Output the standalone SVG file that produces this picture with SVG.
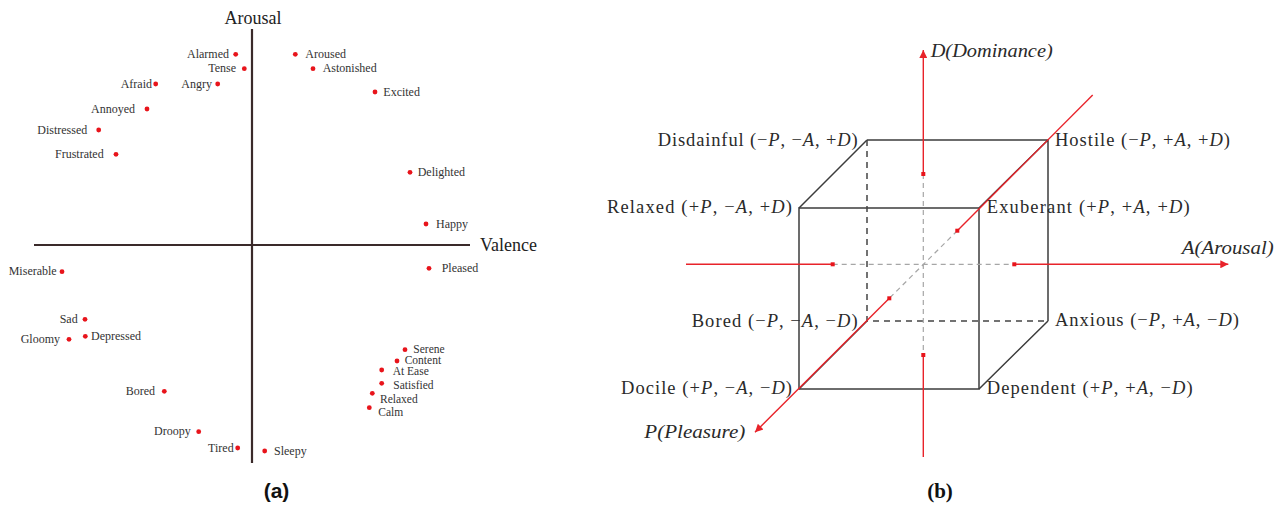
<svg xmlns="http://www.w3.org/2000/svg" width="1283" height="507" viewBox="0 0 1283 507">
<style>
.lbl{font-family:"Liberation Serif","Times New Roman",serif;font-size:12px;fill:#333}
.sm{font-size:11.5px}
.ax{font-family:"Liberation Serif","Times New Roman",serif;font-size:18px;fill:#222}
.pad{fill:#e8141b}
.axis{stroke:#3a2a2a;stroke-width:2.2;fill:none}
.cube{stroke:#3c3c3c;stroke-width:1.5;fill:none}
.hid{stroke:#444;stroke-width:1.5;stroke-dasharray:6 5;fill:none}
.red{stroke:#e8232a;stroke-width:1.4;fill:none}
.gd{stroke:#a6a6a6;stroke-width:1.2;stroke-dasharray:5 4;fill:none}
.sq{fill:#e8141b}
.pl{font-family:"Liberation Serif","Times New Roman",serif;font-size:18.5px;fill:#2a2a2a}
.it{font-style:italic}
.cap{font-size:21px;font-weight:bold;fill:#111}
</style>
<defs>
<marker id="ar" viewBox="0 0 10 10" refX="10" refY="5" markerWidth="10" markerHeight="8" markerUnits="userSpaceOnUse" orient="auto">
<path d="M0,0 L10,5 L0,10 z" fill="#e8232a"/>
</marker>
</defs>

<!-- Panel (a) -->
<g id="axes-a">
<line class="axis" x1="252" y1="29" x2="252" y2="463"/>
<line class="axis" x1="34" y1="245" x2="470" y2="245"/>
<text class="ax" x="253" y="24" text-anchor="middle">Arousal</text>
<text class="ax" x="480" y="251">Valence</text>
</g>

<g id="pt-alarmed"><circle class="pad" cx="235.7" cy="54.3" r="2.4"/><text class="lbl" x="229" y="57.8" text-anchor="end">Alarmed</text></g>
<g id="pt-tense"><circle class="pad" cx="244.3" cy="68.7" r="2.4"/><text class="lbl" x="236" y="72.2" text-anchor="end">Tense</text></g>
<g id="pt-angry"><circle class="pad" cx="217.7" cy="84" r="2.4"/><text class="lbl" x="212" y="87.5" text-anchor="end">Angry</text></g>
<g id="pt-afraid"><circle class="pad" cx="155.7" cy="84" r="2.4"/><text class="lbl" x="152" y="87.5" text-anchor="end">Afraid</text></g>
<g id="pt-annoyed"><circle class="pad" cx="147" cy="109" r="2.4"/><text class="lbl" x="135" y="112.5" text-anchor="end">Annoyed</text></g>
<g id="pt-distressed"><circle class="pad" cx="98.7" cy="130" r="2.4"/><text class="lbl" x="87.3" y="133.5" text-anchor="end">Distressed</text></g>
<g id="pt-frustrated"><circle class="pad" cx="116" cy="154.3" r="2.4"/><text class="lbl" x="103.7" y="157.8" text-anchor="end">Frustrated</text></g>
<g id="pt-aroused"><circle class="pad" cx="295.3" cy="54.3" r="2.4"/><text class="lbl" x="305.3" y="57.8">Aroused</text></g>
<g id="pt-astonished"><circle class="pad" cx="313" cy="68.7" r="2.4"/><text class="lbl" x="322.7" y="72.2">Astonished</text></g>
<g id="pt-excited"><circle class="pad" cx="375" cy="92" r="2.4"/><text class="lbl" x="383.3" y="95.5">Excited</text></g>
<g id="pt-delighted"><circle class="pad" cx="410" cy="172.3" r="2.4"/><text class="lbl" x="417.7" y="175.8">Delighted</text></g>
<g id="pt-happy"><circle class="pad" cx="426" cy="224" r="2.4"/><text class="lbl" x="436" y="227.5">Happy</text></g>
<g id="pt-pleased"><circle class="pad" cx="429" cy="268.3" r="2.4"/><text class="lbl" x="441.7" y="271.8">Pleased</text></g>
<g id="pt-miserable"><circle class="pad" cx="62" cy="271.7" r="2.4"/><text class="lbl" x="56.7" y="275.2" text-anchor="end">Miserable</text></g>
<g id="pt-sad"><circle class="pad" cx="85" cy="319.3" r="2.4"/><text class="lbl" x="77.7" y="322.8" text-anchor="end">Sad</text></g>
<g id="pt-gloomy"><circle class="pad" cx="69" cy="339.3" r="2.4"/><text class="lbl" x="60" y="342.8" text-anchor="end">Gloomy</text></g>
<g id="pt-depressed"><circle class="pad" cx="85.3" cy="336.3" r="2.4"/><text class="lbl" x="91" y="339.8">Depressed</text></g>
<g id="pt-bored"><circle class="pad" cx="164.3" cy="391.3" r="2.4"/><text class="lbl" x="155" y="394.8" text-anchor="end">Bored</text></g>
<g id="pt-droopy"><circle class="pad" cx="198.7" cy="431.7" r="2.4"/><text class="lbl" x="190.7" y="435.2" text-anchor="end">Droopy</text></g>
<g id="pt-tired"><circle class="pad" cx="237.7" cy="448" r="2.4"/><text class="lbl" x="233.7" y="451.5" text-anchor="end">Tired</text></g>
<g id="pt-sleepy"><circle class="pad" cx="264.7" cy="451" r="2.4"/><text class="lbl" x="274" y="454.5">Sleepy</text></g>
<g id="pt-serene"><circle class="pad" cx="405" cy="349.7" r="2.4"/><text class="lbl sm" x="413.3" y="352.7">Serene</text></g>
<g id="pt-content"><circle class="pad" cx="397" cy="361" r="2.4"/><text class="lbl sm" x="404.7" y="364">Content</text></g>
<g id="pt-atease"><circle class="pad" cx="381.7" cy="370" r="2.4"/><text class="lbl sm" x="392.7" y="375.3">At Ease</text></g>
<g id="pt-satisfied"><circle class="pad" cx="381.7" cy="383.3" r="2.4"/><text class="lbl sm" x="393.3" y="388.6">Satisfied</text></g>
<g id="pt-relaxed"><circle class="pad" cx="372.3" cy="393.3" r="2.4"/><text class="lbl sm" x="380" y="402.5">Relaxed</text></g>
<g id="pt-calm"><circle class="pad" cx="369.3" cy="407.7" r="2.4"/><text class="lbl sm" x="378.3" y="416.3">Calm</text></g>

<text id="cap-a" class="cap" x="276.5" y="498" text-anchor="middle" font-family="'Liberation Sans',Arial,sans-serif">(a)</text>

<!-- Panel (b) -->
<g id="cube">
<rect class="cube" x="799" y="208" width="180" height="181"/>
<path class="cube" d="M867,140 H1048 V321 M799,208 L867,140 M979,208 L1048,140 M979,389 L1048,321 M799,389 L867,321"/>
<path class="hid" d="M867,140 V321 H1048"/>
</g>

<g id="connectors">
<line class="gd" x1="923.3" y1="174" x2="923.3" y2="355"/>
<line class="gd" x1="832.7" y1="264.3" x2="1014.3" y2="264.3"/>
<line class="gd" x1="957.3" y1="230.7" x2="889.3" y2="298.3"/>
<line class="red" x1="923.3" y1="174" x2="923.3" y2="50" marker-end="url(#ar)"/>
<line class="red" x1="923.3" y1="355" x2="923.3" y2="457"/>
<line class="red" x1="686" y1="264.3" x2="832.7" y2="264.3"/>
<line class="red" x1="1014.3" y1="264.3" x2="1228.3" y2="264.3" marker-end="url(#ar)"/>
<line class="red" x1="1092.7" y1="95" x2="957.3" y2="230.7"/>
<line class="red" x1="889.3" y1="298.3" x2="755" y2="432.3" marker-end="url(#ar)"/>
<rect class="sq" x="921.3" y="172" width="4" height="4"/>
<rect class="sq" x="921.3" y="353" width="4" height="4"/>
<rect class="sq" x="830.7" y="262.3" width="4" height="4"/>
<rect class="sq" x="1012.3" y="262.3" width="4" height="4"/>
<rect class="sq" x="955.3" y="228.7" width="4" height="4"/>
<rect class="sq" x="887.3" y="296.3" width="4" height="4"/>
</g>

<g id="lbl-d"><text class="pl it" x="930.7" y="57" textLength="122" lengthAdjust="spacingAndGlyphs">D(Dominance)</text></g>
<g id="lbl-a"><text class="pl it" x="1181.7" y="254" textLength="92" lengthAdjust="spacingAndGlyphs">A(Arousal)</text></g>
<g id="lbl-p"><text class="pl it" x="644.3" y="438.3" textLength="101" lengthAdjust="spacingAndGlyphs">P(Pleasure)</text></g>

<g id="v-disdainful"><text class="pl" x="657.7" y="145.7" textLength="200" lengthAdjust="spacing">Disdainful (−<tspan class="it">P</tspan>, −<tspan class="it">A</tspan>, +<tspan class="it">D</tspan>)</text></g>
<g id="v-relaxed"><text class="pl" x="607" y="213" textLength="185" lengthAdjust="spacing">Relaxed (+<tspan class="it">P</tspan>, −<tspan class="it">A</tspan>, +<tspan class="it">D</tspan>)</text></g>
<g id="v-hostile"><text class="pl" x="1055" y="145.5" textLength="175" lengthAdjust="spacing">Hostile (−<tspan class="it">P</tspan>, +<tspan class="it">A</tspan>, +<tspan class="it">D</tspan>)</text></g>
<g id="v-exuberant"><text class="pl" x="986.7" y="213.3" textLength="203" lengthAdjust="spacing">Exuberant (+<tspan class="it">P</tspan>, +<tspan class="it">A</tspan>, +<tspan class="it">D</tspan>)</text></g>
<g id="v-bored"><text class="pl" x="691.7" y="326.7" textLength="166" lengthAdjust="spacing">Bored (−<tspan class="it">P</tspan>, −<tspan class="it">A</tspan>, −<tspan class="it">D</tspan>)</text></g>
<g id="v-anxious"><text class="pl" x="1055" y="326" textLength="184" lengthAdjust="spacing">Anxious (−<tspan class="it">P</tspan>, +<tspan class="it">A</tspan>, −<tspan class="it">D</tspan>)</text></g>
<g id="v-docile"><text class="pl" x="621" y="393.5" textLength="171" lengthAdjust="spacing">Docile (+<tspan class="it">P</tspan>, −<tspan class="it">A</tspan>, −<tspan class="it">D</tspan>)</text></g>
<g id="v-dependent"><text class="pl" x="986.7" y="394" textLength="206" lengthAdjust="spacing">Dependent (+<tspan class="it">P</tspan>, +<tspan class="it">A</tspan>, −<tspan class="it">D</tspan>)</text></g>

<text id="cap-b" class="cap" x="940" y="498" text-anchor="middle" font-family="'Liberation Serif','Times New Roman',serif" font-size="23">(b)</text>
</svg>
